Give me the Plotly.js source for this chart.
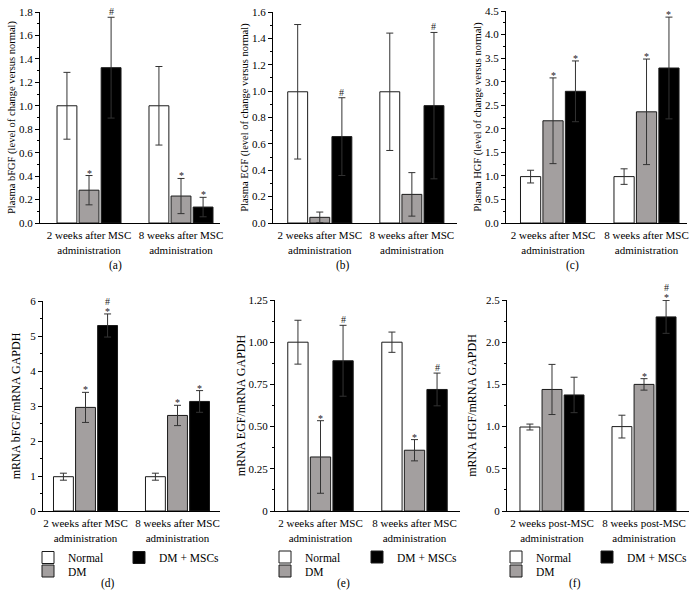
<!DOCTYPE html>
<html>
<head>
<meta charset="utf-8">
<script src="https://cdn.plot.ly/plotly-3.0.1.min.js"></script>
<style>
  body { margin: 0; background: #fff; }
  #chart { width: 698px; height: 604px; }
</style>
</head>
<body>
<div id="chart"></div>
<script>
// Groups and categories
var groups = ['Normal', 'DM', 'DM + MSCs'];
var catAfter = ['2 weeks after MSC<br>administration', '8 weeks after MSC<br>administration'];
var catPost = ['2 weeks post-MSC<br>administration', '8 weeks post-MSC<br>administration'];

// (a) Plasma bFGF
var a_normal = [1.0, 1.0],     a_normal_err = [0.285, 0.335];
var a_dm = [0.28, 0.23],       a_dm_err = [0.125, 0.15];
var a_dmmsc = [1.325, 0.136],  a_dmmsc_err = [0.43, 0.083];
var a_dm_sig = ['*', '*'],     a_dmmsc_sig = ['#', '*'];

// (b) Plasma EGF
var b_normal = [0.995, 0.995], b_normal_err = [0.51, 0.445];
var b_dm = [0.043, 0.217],     b_dm_err = [0.04, 0.165];
var b_dmmsc = [0.655, 0.89],   b_dmmsc_err = [0.295, 0.555];
var b_dm_sig = ['', ''],       b_dmmsc_sig = ['#', '#'];

// (c) Plasma HGF
var c_normal = [0.985, 0.985], c_normal_err = [0.135, 0.165];
var c_dm = [2.17, 2.36],       c_dm_err = [0.91, 1.12];
var c_dmmsc = [2.795, 3.29],   c_dmmsc_err = [0.645, 1.08];
var c_dm_sig = ['*', '*'],     c_dmmsc_sig = ['*', '*'];

// (d) mRNA bFGF
var d_normal = [0.98, 0.98],   d_normal_err = [0.1, 0.1];
var d_dm = [2.96, 2.73],       d_dm_err = [0.43, 0.29];
var d_dmmsc = [5.3, 3.13],     d_dmmsc_err = [0.33, 0.31];
var d_dm_sig = ['*', '*'],     d_dmmsc_sig = ['*#', '*'];

// (e) mRNA EGF
var e_normal = [1.0, 1.0],     e_normal_err = [0.13, 0.06];
var e_dm = [0.32, 0.36],       e_dm_err = [0.215, 0.063];
var e_dmmsc = [0.89, 0.72],    e_dmmsc_err = [0.21, 0.097];
var e_dm_sig = ['*', '*'],     e_dmmsc_sig = ['#', '#'];

// (f) mRNA HGF
var f_normal = [0.995, 1.0],   f_normal_err = [0.035, 0.135];
var f_dm = [1.44, 1.5],        f_dm_err = [0.297, 0.068];
var f_dmmsc = [1.375, 2.3],    f_dmmsc_err = [0.21, 0.195];
var f_dm_sig = ['', '*'],      f_dmmsc_sig = ['', '*#'];

// Tick labels
var e_tickVals = [0, 0.25, 0.5, 0.75, 1, 1.25];
var e_tickText = ['0', '0.25', '0.50', '0.75', '1.00', '1.25'];
var f_tickVals = [0, 0.5, 1, 1.5, 2, 2.5];
var f_tickText = ['0', '0.5', '1.0', '1.5', '2.0', '2.5'];

var W = 698, H = 604;
var FONT = 'Liberation Serif, Times New Roman, serif';
var fills = ['#ffffff', '#a39f9f', '#000000'];
var bargap = 0.28;

// plot boxes in pixels, x range, y-title standoff, panel label position
var boxes = [
  {l: 40,  r: 220, t: 12,  b: 223, xr: [-0.533, 1.424], so: 1, lx: 115, ly: 266},
  {l: 273, r: 457, t: 12,  b: 223, xr: [-0.508, 1.49],  so: 1, lx: 343, ly: 266},
  {l: 506, r: 687, t: 11,  b: 223, xr: [-0.503, 1.433], so: 1, lx: 572, ly: 266},
  {l: 43,  r: 220, t: 301, b: 511, xr: [-0.462, 1.462], so: 7, lx: 108, ly: 583},
  {l: 275, r: 460, t: 300, b: 511, xr: [-0.484, 1.484], so: 0, lx: 343, ly: 583},
  {l: 507, r: 689, t: 300, b: 511, xr: [-0.489, 1.489], so: 6, lx: 575, ly: 583}
];

var panels = [
  {cats: catAfter, vals: [a_normal, a_dm, a_dmmsc], errs: [a_normal_err, a_dm_err, a_dmmsc_err],
   sig: [null, a_dm_sig, a_dmmsc_sig], title: 'Plasma bFGF (level of change versus normal)', tsize: 10.5,
   yr: [0, 1.8], dtick: 0.2, minor: 0.1, fmt: '.1f', label: '(a)'},
  {cats: catAfter, vals: [b_normal, b_dm, b_dmmsc], errs: [b_normal_err, b_dm_err, b_dmmsc_err],
   sig: [null, b_dm_sig, b_dmmsc_sig], title: 'Plasma EGF (level of change versus normal)', tsize: 10.5,
   yr: [0, 1.6], dtick: 0.2, minor: 0.1, fmt: '.1f', label: '(b)'},
  {cats: catAfter, vals: [c_normal, c_dm, c_dmmsc], errs: [c_normal_err, c_dm_err, c_dmmsc_err],
   sig: [null, c_dm_sig, c_dmmsc_sig], title: 'Plasma HGF (level of change versus normal)', tsize: 10.5,
   yr: [0, 4.5], dtick: 0.5, minor: 0.25, fmt: '.1f', label: '(c)'},
  {cats: catAfter, vals: [d_normal, d_dm, d_dmmsc], errs: [d_normal_err, d_dm_err, d_dmmsc_err],
   sig: [null, d_dm_sig, d_dmmsc_sig], title: 'mRNA bFGF/mRNA GAPDH', tsize: 12,
   yr: [0, 6], dtick: 1, minor: 0.5, fmt: 'd', label: '(d)', legend: true},
  {cats: catAfter, vals: [e_normal, e_dm, e_dmmsc], errs: [e_normal_err, e_dm_err, e_dmmsc_err],
   sig: [null, e_dm_sig, e_dmmsc_sig], title: 'mRNA EGF/mRNA GAPDH', tsize: 12,
   yr: [0, 1.25], tickvals: e_tickVals, ticktext: e_tickText, minor: 0.125, label: '(e)', legend: true},
  {cats: catPost, vals: [f_normal, f_dm, f_dmmsc], errs: [f_normal_err, f_dm_err, f_dmmsc_err],
   sig: [null, f_dm_sig, f_dmmsc_sig], title: 'mRNA HGF/mRNA GAPDH', tsize: 12,
   yr: [0, 2.5], tickvals: f_tickVals, ticktext: f_tickText, minor: 0.25, label: '(f)', legend: true}
];

// legend key positions for bottom row: [text start x, row y] for Normal, DM, DM + MSCs
var legendPos = [
  [[68, 557.5], [68, 571], [159, 557.5]],
  [[305, 557], [305, 571], [397, 557]],
  [[536, 557], [536, 571], [627, 557]]
];

var data = [];
var layout = {
  width: W, height: H,
  margin: {l: 0, r: 0, t: 0, b: 0},
  paper_bgcolor: '#fff', plot_bgcolor: '#fff',
  barmode: 'group', bargap: bargap, bargroupgap: 0.1,
  showlegend: true,
  font: {family: FONT, size: 11, color: '#000'},
  annotations: []
};

var legendCount = 0;
panels.forEach(function (p, i) {
  var n = i + 1;
  var sfx = n === 1 ? '' : String(n);
  var box = boxes[i];

  for (var j = 0; j < 3; j++) {
    var tr = {
      type: 'bar', x: p.cats, y: p.vals[j], name: groups[j],
      xaxis: 'x' + sfx, yaxis: 'y' + sfx,
      marker: {color: fills[j], line: {color: '#1a1a1a', width: 1}},
      error_y: {type: 'data', array: p.errs[j], visible: true, color: '#333', thickness: 1, width: 3.5},
      showlegend: false, hoverinfo: 'skip'
    };
    if (p.legend) {
      legendCount++;
      var lid = legendCount === 1 ? 'legend' : 'legend' + legendCount;
      tr.showlegend = true;
      tr.legend = lid;
      var pos = legendPos[i - 3][j];
      layout[lid] = {
        x: (pos[0] - 40) / W, xanchor: 'left',
        y: 1 - pos[1] / H, yanchor: 'middle',
        bgcolor: 'rgba(0,0,0,0)', borderwidth: 0,
        font: {family: FONT, size: 11.5, color: '#000'}
      };
    }
    data.push(tr);
  }

  layout['xaxis' + sfx] = {
    domain: [box.l / W, box.r / W], range: box.xr, anchor: 'y' + sfx,
    showline: true, linecolor: '#000', linewidth: 1, ticks: '',
    showgrid: false, zeroline: false, fixedrange: true,
    ticklabelstandoff: 2,
    tickfont: {family: FONT, size: 11}
  };
  var ya = {
    domain: [1 - box.b / H, 1 - box.t / H], range: p.yr, anchor: 'x' + sfx,
    showline: true, linecolor: '#000', linewidth: 1,
    ticks: 'outside', ticklen: 4, tickwidth: 1, tickcolor: '#000',
    minor: {ticks: 'outside', ticklen: 2, tickcolor: '#000', dtick: p.minor},
    showgrid: false, zeroline: false, fixedrange: true,
    tickfont: {family: FONT, size: 11},
    title: {text: p.title, font: {family: FONT, size: p.tsize}, standoff: box.so}
  };
  if (p.tickvals) {
    ya.tickmode = 'array'; ya.tickvals = p.tickvals; ya.ticktext = p.ticktext;
  } else {
    ya.dtick = p.dtick; ya.tick0 = 0; ya.tickformat = p.fmt;
  }
  layout['yaxis' + sfx] = ya;

  // significance marks above the error bars
  var pxPerCat = (box.r - box.l) / (box.xr[1] - box.xr[0]);
  var slot = pxPerCat * (1 - bargap) / 3;
  for (var g = 1; g < 3; g++) {
    var marks = p.sig[g];
    for (var k = 0; k < 2; k++) {
      var s = marks[k];
      if (!s) continue;
      var top = p.vals[g][k] + p.errs[g][k];
      for (var m = 0; m < s.length; m++) {
        var ch = s[m];
        layout.annotations.push({
          x: p.cats[k], y: top, xref: 'x' + sfx, yref: 'y' + sfx,
          text: ch, showarrow: false, xshift: (g - 1) * slot,
          yanchor: 'bottom', yshift: (ch === '*' ? -5 : -2) + m * 7,
          font: {family: FONT, size: 10, color: '#222'}
        });
      }
    }
  }

  // panel label
  layout.annotations.push({
    x: box.lx / W, y: 1 - box.ly / H, xanchor: 'center', yanchor: 'middle',
    xref: 'paper', yref: 'paper', text: p.label, showarrow: false,
    font: {family: FONT, size: 11.5}
  });
});

Plotly.newPlot('chart', data, layout, {displayModeBar: false, staticPlot: true});
</script>
</body>
</html>
